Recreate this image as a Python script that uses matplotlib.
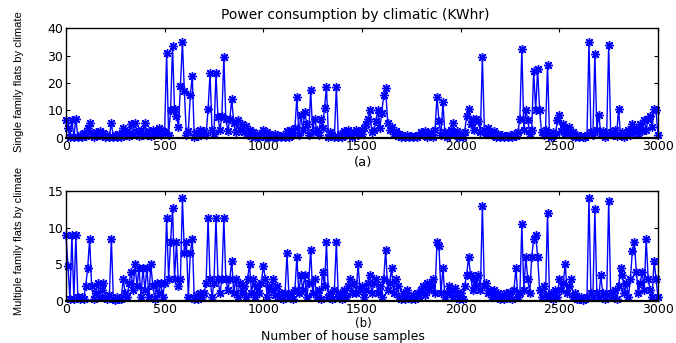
import numpy as np
import matplotlib
matplotlib.use("Agg")
import matplotlib.pyplot as plt

plt.rcParams["font.family"] = ["DejaVu Sans"]

# house sample index, one reading every 10 samples
samples = list(range(0, 3001, 10))

# single family flats (a)
single_family = [
    6.5, 3.5, 0.5, 6.5, 0.2, 7.0, 0.5, 1.2, 0.3, 1.8,
    0.8, 3.5, 5.5, 1.5, 0.4, 2.0, 1.0, 2.5, 0.6, 1.8,
    0.3, 1.2, 0.5, 5.5, 0.2, 1.0, 0.3, 1.5, 0.5, 3.5,
    1.0, 2.5, 0.8, 5.0, 1.5, 5.5, 2.0, 0.8, 3.0, 1.2,
    5.5, 1.0, 2.5, 0.6, 3.0, 1.5, 2.5, 3.5, 1.0, 2.5,
    2.0, 31.0, 1.0, 10.0, 33.5, 10.5, 8.0, 4.0, 19.0, 35.0,
    17.0, 1.0, 2.5, 15.5, 22.5, 0.5, 2.0, 0.8, 3.0, 1.5,
    2.5, 1.0, 10.5, 23.5, 3.0, 1.5, 23.5, 7.5, 3.0, 8.0,
    29.5, 7.0, 2.5, 7.0, 14.0, 5.5, 2.0, 6.5, 3.0, 5.0,
    2.0, 4.5, 1.0, 3.0, 0.8, 2.0, 0.5, 1.5, 0.3, 1.0,
    3.0, 0.5, 2.0, 0.3, 1.0, 0.2, 1.5, 0.5, 0.8, 0.2,
    1.0, 0.3, 2.5, 0.5, 3.0, 1.0, 3.5, 15.0, 1.0, 8.5,
    3.0, 9.5, 5.0, 1.0, 17.5, 2.0, 7.0, 3.0, 1.0, 7.0,
    3.5, 11.0, 18.5, 0.5, 2.0, 1.0, 0.3, 18.5, 0.5, 1.5,
    0.5, 2.5, 1.0, 3.0, 1.5, 0.5, 2.0, 3.0, 1.0, 2.5,
    1.5, 3.5, 5.0, 7.0, 10.0, 2.0, 3.0, 6.0, 10.0, 3.5,
    9.0, 15.5, 18.0, 5.5, 3.0, 4.0, 1.5, 2.5, 0.8, 1.5,
    0.3, 0.8, 0.2, 1.0, 0.3, 0.6, 0.2, 0.8, 0.3, 1.0,
    2.0, 1.0, 2.5, 0.5, 1.5, 2.0, 0.5, 3.0, 15.0, 6.0,
    1.0, 13.0, 2.0, 0.5, 1.5, 3.0, 5.5, 1.0, 2.5, 0.5,
    1.5, 0.3, 2.0, 8.0, 10.5, 5.0, 7.0, 3.0, 7.0, 6.0,
    2.0, 29.5, 3.0, 1.5, 3.5, 2.0, 1.0, 2.5, 0.5, 1.5,
    0.3, 1.0, 0.2, 0.8, 0.3, 1.2, 0.5, 1.5, 0.8, 2.0,
    7.0, 32.5, 3.0, 10.0, 6.5, 1.5, 3.0, 24.5, 10.0, 25.0,
    10.0, 2.0, 1.0, 3.0, 26.5, 1.5, 0.5, 2.0, 1.0, 6.5,
    8.5, 2.5, 5.0, 1.5, 3.0, 4.0, 1.0, 2.0, 0.5, 1.0,
    0.2, 0.8, 0.3, 0.5, 1.0, 35.0, 2.0, 1.0, 30.5, 3.0,
    8.5, 1.5, 2.5, 0.5, 1.5, 34.0, 2.0, 1.0, 3.0, 0.8,
    10.5, 1.0, 2.0, 0.5, 1.5, 3.0, 1.0, 5.0, 2.0, 3.5,
    1.5, 5.0, 2.5, 6.5, 3.0, 7.0, 8.0, 4.0, 10.5, 10.0,
    1.0,
]

# multiple family flats (b)
multi_family = [
    9.0, 4.8, 0.3, 9.0, 0.2, 9.0, 0.5, 0.2, 0.5, 0.3,
    2.0, 4.5, 8.5, 2.0, 0.3, 1.0, 2.5, 0.5, 1.5, 2.5,
    0.5, 0.2, 0.8, 8.5, 0.3, 0.1, 0.5, 0.2, 0.3, 3.0,
    1.0, 0.5, 2.5, 4.0, 1.5, 5.0, 2.0, 4.5, 0.5, 4.5,
    1.5, 4.5, 0.5, 5.0, 2.0, 0.3, 2.5, 1.0, 2.5, 0.5,
    2.5, 11.3, 3.0, 8.0, 12.7, 3.0, 8.0, 2.0, 3.0, 14.0,
    6.5, 8.0, 0.5, 6.5, 8.5, 0.3, 0.8, 0.2, 1.0, 0.5,
    1.0, 2.5, 11.3, 3.0, 0.5, 2.5, 11.3, 3.0, 1.0, 3.0,
    11.3, 3.0, 1.5, 3.0, 5.5, 1.0, 3.0, 0.5, 2.5, 1.0,
    2.0, 0.5, 3.0, 5.0, 1.0, 3.0, 0.5, 2.0, 1.0, 2.5,
    4.8, 3.0, 0.5, 2.0, 1.5, 3.0, 0.8, 2.0, 0.5, 1.0,
    0.3, 1.0, 6.5, 0.5, 1.0, 0.3, 1.5, 6.0, 1.0, 3.5,
    1.5, 3.5, 0.5, 2.5, 7.0, 1.0, 3.0, 0.5, 1.5, 0.3,
    4.0, 2.0, 8.0, 0.5, 1.0, 0.3, 1.5, 8.0, 0.5, 1.0,
    0.3, 1.5, 0.5, 2.0, 3.0, 1.0, 2.5, 1.0, 5.0, 1.5,
    2.0, 0.5, 1.5, 2.5, 3.5, 1.0, 2.5, 3.0, 1.0, 2.0,
    0.5, 3.0, 7.0, 1.5, 2.5, 4.5, 1.0, 3.0, 2.0, 0.5,
    0.3, 1.0, 0.2, 1.5, 0.5, 0.2, 0.8, 0.3, 1.0, 0.5,
    1.5, 2.0, 0.8, 2.5, 1.5, 2.0, 3.0, 1.0, 8.0, 7.5,
    1.0, 4.5, 0.5, 1.0, 2.0, 1.5, 0.5, 1.8, 1.0, 0.3,
    1.0, 0.2, 2.0, 3.5, 6.0, 3.5, 1.5, 3.0, 2.0, 3.5,
    1.5, 13.0, 2.0, 2.5, 1.0, 1.5, 0.5, 1.5, 0.5, 1.0,
    0.2, 0.8, 0.3, 1.0, 0.5, 1.2, 0.3, 1.5, 4.5, 0.5,
    1.0, 10.5, 1.5, 6.0, 3.0, 1.0, 6.0, 8.5, 9.0, 6.0,
    1.5, 0.5, 2.0, 0.8, 12.0, 0.5, 1.0, 0.3, 1.5, 0.5,
    3.0, 1.5, 2.5, 5.0, 1.0, 2.0, 3.0, 0.5, 1.0, 0.3,
    0.2, 0.5, 0.1, 0.3, 0.5, 14.0, 1.0, 0.5, 12.6, 1.0,
    0.5, 3.5, 1.0, 0.3, 0.8, 13.7, 1.0, 0.5, 1.5, 0.3,
    2.0, 4.5, 3.5, 1.0, 2.5, 0.5, 3.0, 6.8, 8.0, 4.0,
    1.0, 2.5, 4.0, 1.5, 8.5, 3.0, 1.5, 0.5, 5.5, 3.0,
    0.5,
]

x_ticks = [0, 500, 1000, 1500, 2000, 2500, 3000]
top_yticks = [0, 10, 20, 30, 40]
bottom_yticks = [0, 5, 10, 15]


def style_axis(ax, yticks, ylim):
    ax.set_xlim(0, 3000)
    ax.set_ylim(*ylim)
    ax.set_xticks(x_ticks)
    ax.set_yticks(yticks)
    ax.tick_params(direction="in", top=True, right=True, length=3,
                   labelsize=9, pad=2)
    ax.tick_params(axis="x", pad=1.5)
    for side in ["left", "right", "top"]:
        ax.spines[side].set_linewidth(1.0)
    ax.spines["bottom"].set_linewidth(1.6)


fig = plt.figure(figsize=(6.76, 3.43), dpi=100)
ax_a = fig.add_axes([0.0976, 0.598, 0.8758, 0.320])
ax_b = fig.add_axes([0.0976, 0.123, 0.8758, 0.320])

for ax, values in [(ax_a, single_family), (ax_b, multi_family)]:
    ax.plot(samples, values, color="#0000ff", linewidth=1.0,
            marker=(8, 2, 0), markersize=6.5, markeredgewidth=1.0,
            clip_on=False)

style_axis(ax_a, top_yticks, (0, 40))
style_axis(ax_b, bottom_yticks, (0, 15))

ylabel_font = ["Liberation Sans", "DejaVu Sans"]
fig.text(0.028, 0.761, "Single family flats by climate", rotation=90,
         ha="center", va="center", fontsize=8, family=ylabel_font)
fig.text(0.028, 0.299, "Multiple family flats by climate", rotation=90,
         ha="center", va="center", fontsize=8, family=ylabel_font)

fig.text(0.525, 0.955, "Power consumption by climatic (KWhr)", ha="center",
         va="center", fontsize=10)
fig.text(0.537, 0.526, "(a)", ha="center", va="center", fontsize=9.5)
fig.text(0.537, 0.058, "(b)", ha="center", va="center", fontsize=8.5)
fig.text(0.508, 0.0, "Number of house samples", ha="center",
         va="bottom", fontsize=9)

fig.savefig("out.png", dpi=100)
plt.close(fig)
